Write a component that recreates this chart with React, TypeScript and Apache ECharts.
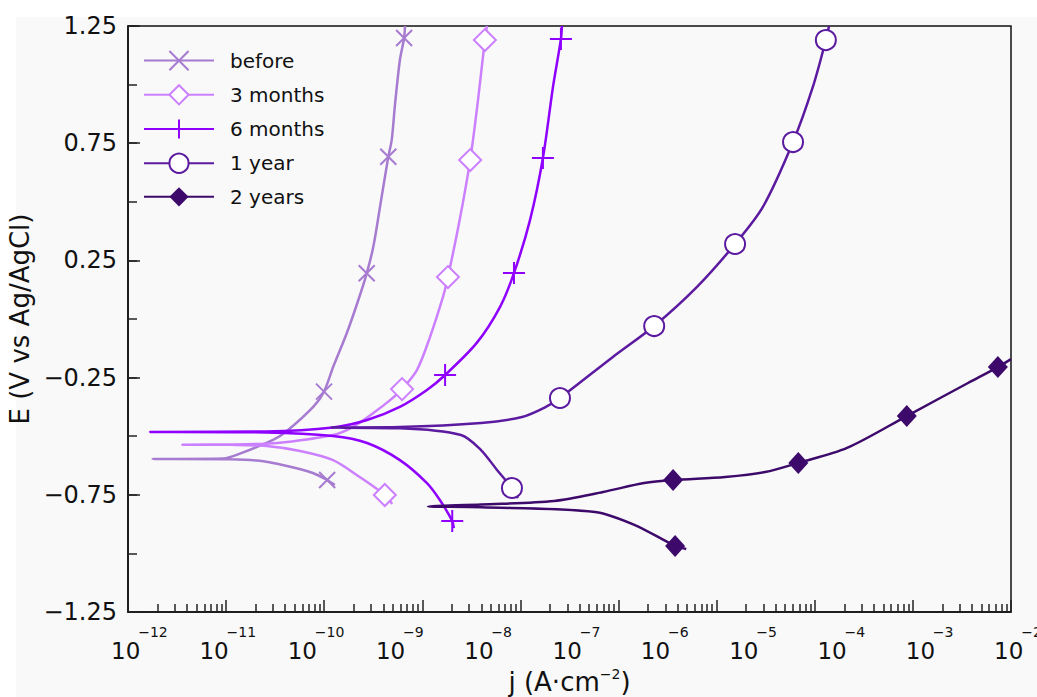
import React, { useEffect, useRef } from "react";
import * as echarts from "echarts";

const FONT = "DejaVu Sans";
const INK = "#111";

const seriesNames = ["before", "3 months", "6 months", "1 year", "2 years"];
const seriesColors = ["#a67bd0", "#cc80ff", "#8f00ff", "#5b1a9f", "#3d0a6b"];

// Each point: [j (A·cm⁻²), E (V vs Ag/AgCl), marker shown (1) or not (0)]
// Order: cathodic tip -> left end (corrosion potential) -> anodic tip
type Pt = [number, number, number];

const beforeCurve: Pt[] = [
  [2.2e-10, -0.708, 0],
  [1.8e-10, -0.687, 1],
  [1.24e-10, -0.657, 0],
  [6.3e-11, -0.627, 0],
  [2.9e-11, -0.604, 0],
  [1.4e-11, -0.598, 0],
  [1.9e-12, -0.597, 0],
  [1.2e-11, -0.595, 0],
  [1.7e-11, -0.58, 0],
  [4.4e-11, -0.516, 0],
  [6.3e-11, -0.478, 0],
  [1.26e-10, -0.374, 0],
  [1.66e-10, -0.31, 1],
  [2.11e-10, -0.204, 0],
  [3.0e-10, -0.061, 0],
  [4.06e-10, 0.081, 0],
  [5.05e-10, 0.195, 1],
  [6.0e-10, 0.308, 0],
  [7.15e-10, 0.479, 0],
  [8.87e-10, 0.692, 1],
  [9.7e-10, 0.764, 0],
  [1.06e-9, 0.921, 0],
  [1.2e-9, 1.105, 0],
  [1.34e-9, 1.199, 1],
  [1.37e-9, 1.25, 0],
];

const threeMonthsCurve: Pt[] = [
  [9.8e-10, -0.789, 0],
  [8.1e-10, -0.751, 1],
  [4.2e-10, -0.674, 0],
  [2.1e-10, -0.602, 0],
  [8.9e-11, -0.563, 0],
  [3.7e-11, -0.542, 0],
  [1.5e-11, -0.537, 0],
  [4.1e-12, -0.536, 0],
  [1.5e-11, -0.535, 0],
  [3.7e-11, -0.532, 0],
  [6.3e-11, -0.525, 0],
  [2.1e-10, -0.495, 0],
  [3.5e-10, -0.461, 0],
  [6.0e-10, -0.401, 0],
  [9.3e-10, -0.346, 0],
  [1.27e-9, -0.299, 1],
  [1.87e-9, -0.218, 0],
  [2.63e-9, -0.077, 0],
  [3.69e-9, 0.094, 0],
  [4.2e-9, 0.179, 1],
  [5.7e-9, 0.422, 0],
  [7.5e-9, 0.678, 1],
  [9.2e-9, 0.934, 0],
  [1.1e-8, 1.19, 1],
  [1.16e-8, 1.25, 0],
];

const sixMonthsCurve: Pt[] = [
  [4.9e-9, -0.892, 0],
  [4.7e-9, -0.862, 1],
  [3.4e-9, -0.772, 0],
  [2.43e-9, -0.7, 0],
  [1.2e-9, -0.602, 0],
  [5.1e-10, -0.529, 0],
  [2.1e-10, -0.499, 0],
  [3.7e-11, -0.484, 0],
  [1.77e-12, -0.482, 0],
  [3.7e-11, -0.48, 0],
  [2.1e-10, -0.463, 0],
  [5.1e-10, -0.431, 0],
  [1.2e-9, -0.375, 0],
  [2.43e-9, -0.303, 0],
  [3.9e-9, -0.239, 1],
  [8.9e-9, -0.102, 0],
  [1.63e-8, 0.051, 0],
  [2.35e-8, 0.196, 1],
  [3.57e-8, 0.422, 0],
  [5.0e-8, 0.687, 1],
  [6.5e-8, 0.99, 0],
  [8.0e-8, 1.195, 1],
  [8.2e-8, 1.25, 0],
];

const oneYearCurve: Pt[] = [
  [2.6e-8, -0.764, 0],
  [2.23e-8, -0.721, 1],
  [1.51e-8, -0.644, 0],
  [9.95e-9, -0.559, 0],
  [5.9e-9, -0.495, 0],
  [1.2e-9, -0.466, 0],
  [2.0e-10, -0.463, 0],
  [1.2e-9, -0.461, 0],
  [9.95e-9, -0.444, 0],
  [2.9e-8, -0.418, 0],
  [5.4e-8, -0.375, 0],
  [7.8e-8, -0.337, 1],
  [3.1e-7, -0.162, 0],
  [9.1e-7, -0.03, 1],
  [2.78e-6, 0.137, 0],
  [7.5e-6, 0.32, 1],
  [1.55e-5, 0.478, 0],
  [3.4e-5, 0.755, 1],
  [5.7e-5, 0.99, 0],
  [8.0e-5, 1.19, 1],
  [8.7e-5, 1.25, 0],
];

const twoYearsCurve: Pt[] = [
  [2.1e-6, -0.981, 0],
  [1.57e-6, -0.968, 1],
  [5.5e-7, -0.879, 0],
  [1.95e-7, -0.823, 0],
  [1.0e-8, -0.803, 0],
  [2.5e-9, -0.8, 0],
  [1.0e-8, -0.791, 0],
  [6.7e-8, -0.776, 0],
  [2.4e-7, -0.738, 0],
  [7.0e-7, -0.7, 0],
  [1.49e-6, -0.687, 1],
  [5.8e-6, -0.674, 0],
  [1.64e-5, -0.653, 0],
  [3.9e-5, -0.614, 1],
  [1.39e-4, -0.55, 0],
  [6.6e-4, -0.414, 1],
  [3.26e-3, -0.273, 0],
  [7.1e-3, -0.205, 1],
  [1.0e-2, -0.171, 0],
];

const curves = [beforeCurve, threeMonthsCurve, sixMonthsCurve, oneYearCurve, twoYearsCurve];

// axis tick labels
const xTickValues = [1e-12, 1e-11, 1e-10, 1e-9, 1e-8, 1e-7, 1e-6, 1e-5, 1e-4, 1e-3, 1e-2];
const yTickLabels = [-1.25, -0.75, -0.25, 0.25, 0.75, 1.25];
// the frame's own (decade + minor) tick marks along the bottom edge
const frameDecades = [0, 1, 2, 3, 4, 5, 6, 7, 8, 9];
const frameMinorMultipliers = [2, 3, 4, 5, 6, 7, 8, 9];

const symbolDefs: { symbol: string; size: number | number[]; empty: boolean }[] = [
  { symbol: "path://M0,0L10,10M10,0L0,10", size: 16, empty: false },
  { symbol: "emptyDiamond", size: 22, empty: true },
  { symbol: "path://M5,0L5,10M0,5L10,5", size: 22, empty: false },
  { symbol: "emptyCircle", size: 20, empty: true },
  { symbol: "diamond", size: [20, 22], empty: false },
];

const tickStyle = { color: "#222", width: 1.5 };
const lineAxis = { show: true, onZero: false, lineStyle: { color: INK, width: 1.5 } };

function toMinus(s: string) {
  return s.replace("-", "\u2212");
}

function buildOption() {
  const minorTicks: number[] = [];
  frameDecades.slice(0, -1).forEach((d) => {
    frameMinorMultipliers.forEach((m) => minorTicks.push(d + Math.log10(m)));
  });

  const series = curves.map((curve, i) => {
    const c = seriesColors[i];
    const def = symbolDefs[i];
    const isStrokePath = def.symbol.startsWith("path://");
    return {
      name: seriesNames[i],
      type: "line",
      xAxisIndex: 0,
      yAxisIndex: 0,
      smooth: 0.3,
      color: c,
      symbol: def.symbol,
      symbolSize: def.size,
      showAllSymbol: true,
      lineStyle: { color: c, width: 2.5 },
      itemStyle: isStrokePath
        ? { color: c, borderColor: c, borderWidth: 2 }
        : def.empty
        ? { color: c, borderWidth: 2 }
        : { color: c, borderWidth: 0 },
      emphasis: { disabled: true },
      silent: true,
      data: curve.map(([j, e, m]) =>
        m ? { value: [j, e] } : { value: [j, e], symbol: "none" }
      ),
    };
  });

  return {
    animation: false,
    backgroundColor: "transparent",
    textStyle: { fontFamily: FONT, color: INK },
    grid: {
      left: 128,
      top: 26,
      width: 883,
      height: 586,
      show: true,
      borderColor: INK,
      borderWidth: 1.5,
      backgroundColor: "transparent",
      containLabel: false,
      outerBoundsMode: "none",
    },
    legend: {
      show: true,
      orient: "vertical",
      left: 143,
      top: 50,
      padding: 0,
      itemWidth: 70,
      itemHeight: 24,
      itemGap: 13,
      selectedMode: false,
      data: seriesNames,
      textStyle: { fontSize: 20, color: INK, fontFamily: FONT, padding: [0, 0, 0, 11] },
    },
    xAxis: [
      {
        type: "log",
        logBase: 10,
        min: 1e-12,
        max: 1e-2,
        splitNumber: 10,
        position: "bottom",
        axisLine: lineAxis,
        axisTick: { show: false },
        minorTick: { show: false },
        splitLine: { show: false },
        axisLabel: {
          customValues: xTickValues,
          margin: 13,
          showMinLabel: true,
          showMaxLabel: true,
          hideOverlap: false,
          formatter: (v: number) => {
            const s = toMinus(String(Math.round(Math.log10(v))));
            return `{p${s.length}| }{b|10}{s|${s}}`;
          },
          rich: {
            b: { fontSize: 23, lineHeight: 52, width: 25, align: "left", fontFamily: FONT, color: INK },
            s: { fontSize: 14, lineHeight: 12, verticalAlign: "top", fontFamily: FONT, color: INK },
            p3: { width: 25, fontSize: 14, lineHeight: 12 },
            p2: { width: 16, fontSize: 14, lineHeight: 12 },
          },
        },
        name: "j (A\u00b7cm{sup|\u22122})",
        nameLocation: "middle",
        nameGap: 55,
        nameTextStyle: {
          fontSize: 26,
          lineHeight: 30,
          color: INK,
          fontFamily: FONT,
          rich: {
            sup: { fontSize: 14, lineHeight: 14, verticalAlign: "top", fontFamily: FONT, color: INK },
          },
        },
      },
      {
        type: "value",
        min: 0,
        max: 9,
        position: "bottom",
        axisLine: { show: false, onZero: false },
        axisLabel: { show: false },
        splitLine: { show: false },
        axisTick: { show: true, inside: true, length: 12, customValues: frameDecades, lineStyle: tickStyle },
      },
      {
        type: "value",
        min: 0,
        max: 9,
        position: "bottom",
        axisLine: { show: false, onZero: false },
        axisLabel: { show: false },
        splitLine: { show: false },
        axisTick: { show: true, inside: true, length: 8, customValues: minorTicks, lineStyle: tickStyle },
      },
    ],
    yAxis: [
      {
        type: "value",
        min: -1.25,
        max: 1.25,
        interval: 0.25,
        position: "left",
        axisLine: lineAxis,
        axisTick: { show: true, inside: true, length: 9, lineStyle: tickStyle },
        splitLine: { show: false },
        axisLabel: {
          fontSize: 24,
          margin: 11,
          color: INK,
          fontFamily: FONT,
          formatter: (v: number) => {
            const hit = yTickLabels.find((t) => Math.abs(t - v) < 1e-6);
            return hit === undefined ? "" : toMinus(hit.toFixed(2));
          },
        },
        name: "E (V vs Ag/AgCl)",
        nameLocation: "middle",
        nameRotate: 90,
        nameGap: 82,
        nameTextStyle: { fontSize: 26, color: INK, fontFamily: FONT },
      },
      {
        type: "value",
        min: -1.25,
        max: 1.25,
        position: "left",
        offset: 0,
        axisLine: { show: false, onZero: false },
        axisLabel: { show: false },
        splitLine: { show: false },
        axisTick: { show: true, inside: true, length: 12, customValues: yTickLabels, lineStyle: tickStyle },
      },
    ],
    series,
  };
}

export default function App() {
  const ref = useRef<HTMLDivElement>(null);
  useEffect(() => {
    if (!ref.current) return;
    const chart = echarts.init(ref.current, undefined, { renderer: "svg" });
    chart.setOption(buildOption() as any);
    return () => chart.dispose();
  }, []);
  return (
    <div
      style={{
        position: "fixed",
        left: 0,
        top: 0,
        width: 1037,
        height: 697,
        background: "#ffffff",
        overflow: "hidden",
      }}
    >
      <div
        style={{ position: "absolute", left: 16, top: 17, right: 0, bottom: 0, background: "#f9f9f9" }}
      />
      <div ref={ref} style={{ position: "absolute", left: 0, top: 0, width: 1037, height: 697 }} />
    </div>
  );
}
